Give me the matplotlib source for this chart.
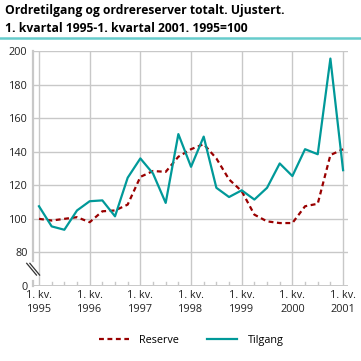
import numpy as np
import matplotlib.pyplot as plt

plt.rcParams['font.family'] = ['Open Sans', 'DejaVu Sans']

# quarters 1995Q1 .. 2001Q1
quarters = np.arange(25)
year_labels = ['1. kv.\n1995', '1. kv.\n1996', '1. kv.\n1997', '1. kv.\n1998',
               '1. kv.\n1999', '1. kv.\n2000', '1. kv.\n2001']
reserve = [100, 99, 100, 101, 98, 104.5, 105, 108.5, 125, 128.5, 128, 137, 141.5,
           144.5, 136, 123.5, 116.5, 102.5, 98.5, 97.5, 97.5, 107.5, 109, 138, 141.5]
tilgang = [107.5, 95.5, 93.5, 105, 110.5, 111, 101.5, 124.5, 136, 127, 109.5, 150.5,
           131, 149, 118.5, 113, 117, 111.5, 118.5, 133, 125.5, 141.5, 138.5, 195.5, 129]

teal = '#009999'
red = '#990000'
grid = '#c8c8c8'

fig = plt.figure(figsize=(3.61, 3.61), dpi=100)
ax = fig.add_axes([0.0914, 0.2078, 0.8726, 0.6509])
ax.set_xlim(-0.474, 24.39)
ax.set_ylim(60, 200)

# grid
for v in range(80, 201, 20):
    ax.axhline(v, color=grid, lw=1.0, zorder=0)
for q in range(0, 25, 4):
    ax.axvline(q, color=grid, lw=1.0, zorder=0)
for q in range(25):
    if q % 4:
        ax.plot([q, q], [60, 62.4], color=grid, lw=1.0, zorder=0)

for s in ax.spines.values():
    s.set_visible(False)
ax.axhline(60, color=grid, lw=1.4, zorder=0)
# left axis with break
x0 = -0.474
ax.plot([x0, x0], [75, 200], color=grid, lw=1.6, clip_on=False)
ax.plot([x0, x0], [60, 63], color=grid, lw=1.6, clip_on=False)
for dx in (0.0, 0.25):
    ax.plot([-0.97 + dx, -0.2 + dx], [73.5, 66.5], color='#333333', lw=0.9, clip_on=False)

ax.plot(quarters, reserve, color=red, lw=1.6, dashes=(2.2, 1.6), label='Reserve')
ax.plot(quarters, tilgang, color=teal, lw=1.6, label='Tilgang')

ax.set_yticks([60, 80, 100, 120, 140, 160, 180, 200])
ax.set_yticklabels(['0', '80', '100', '120', '140', '160', '180', '200'])
ax.set_xticks(range(0, 25, 4))
ax.set_xticklabels(year_labels, linespacing=1.3)
ax.tick_params(length=0, labelsize=7.8, colors='#222222')
ax.tick_params(axis='y', pad=4)
ax.tick_params(axis='x', pad=3)

fig.legend(loc='center', bbox_to_anchor=(0.53, 0.058), ncol=2, frameon=False,
           fontsize=7.8, handlelength=2.7, columnspacing=2.6, handletextpad=1.0)

fig.text(0.014, 0.988, 'Ordretilgang og ordrereserver totalt. Ujustert.\n'
         '1. kvartal 1995-1. kvartal 2001. 1995=100',
         ha='left', va='top', fontsize=8.7, fontweight='bold', linespacing=1.45)
fig.add_artist(plt.Line2D([0, 1], [1 - 37.5 / 361] * 2, color='#66cccc', lw=1.8))

fig.savefig('out.png', dpi=100)
